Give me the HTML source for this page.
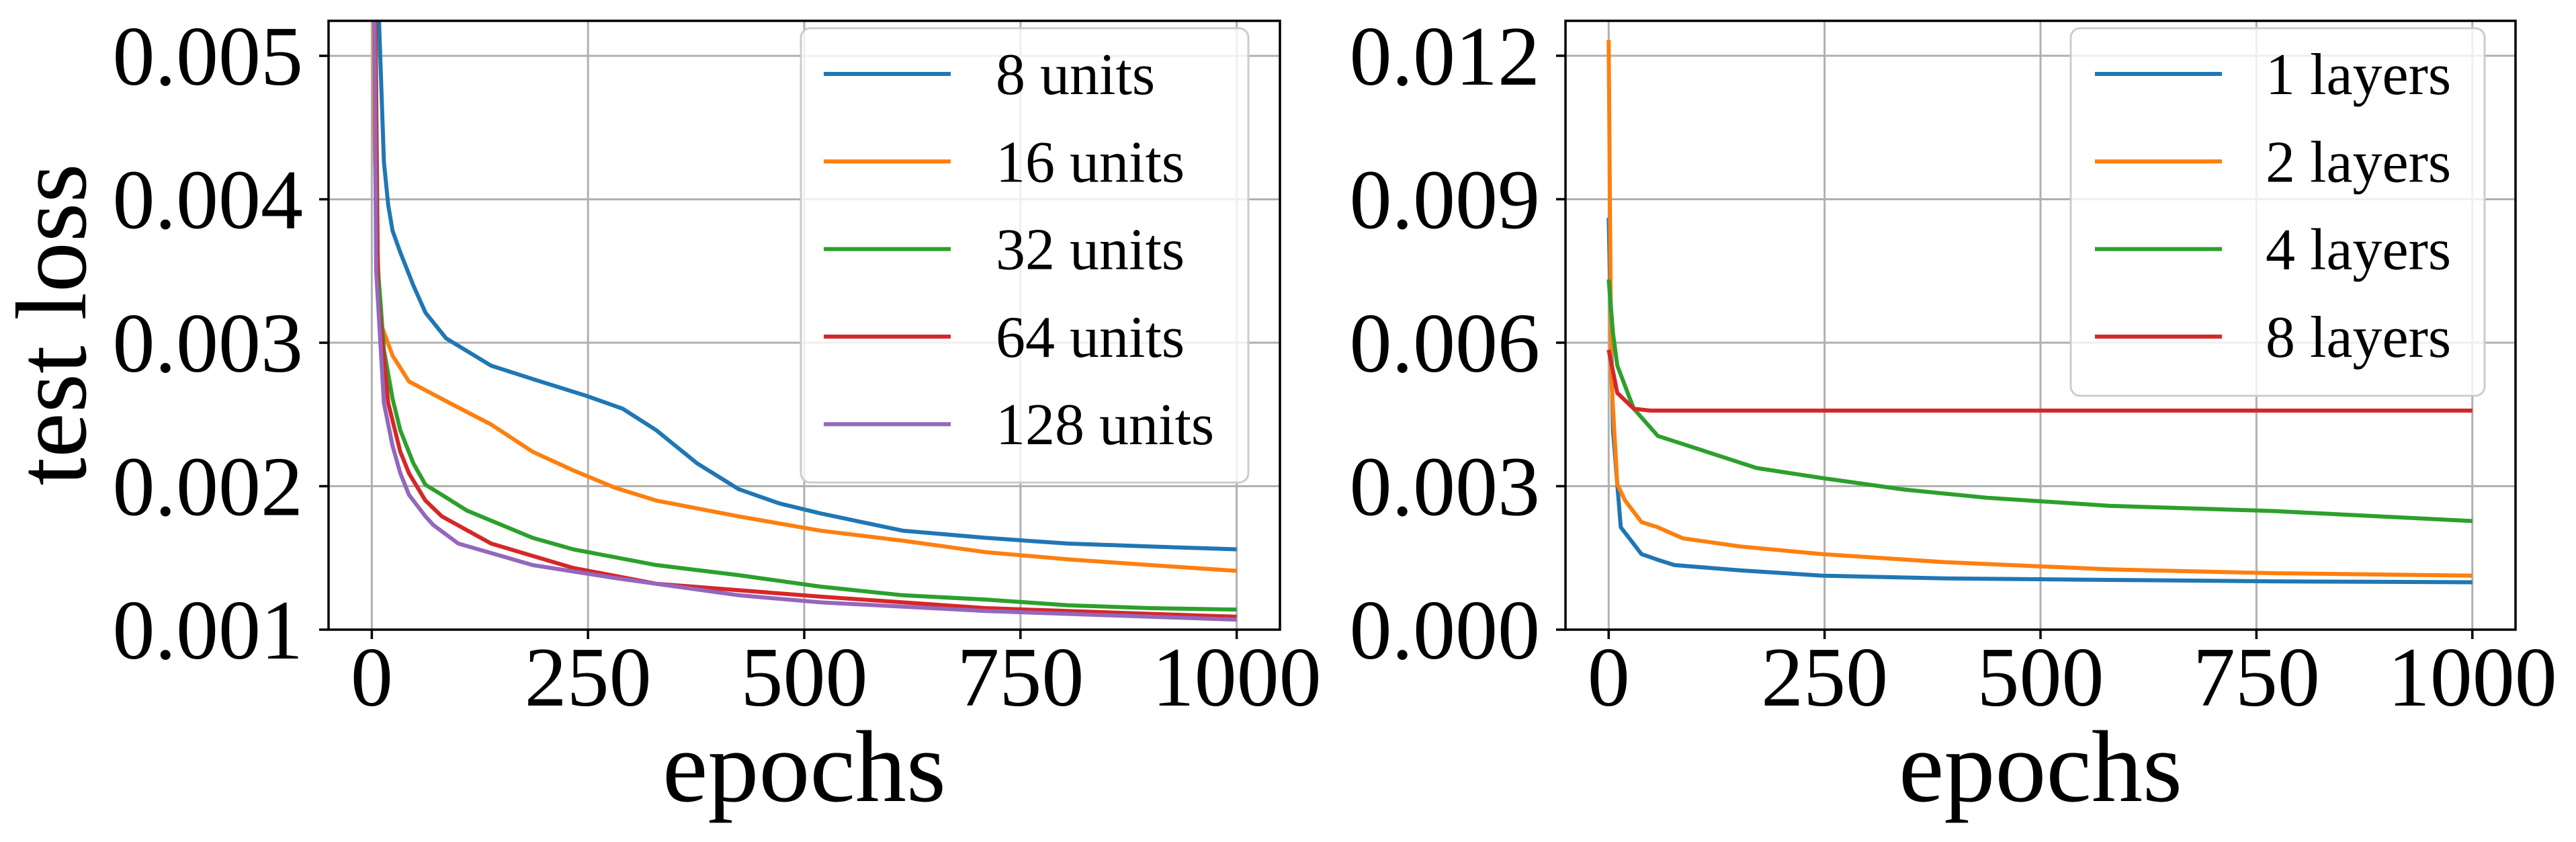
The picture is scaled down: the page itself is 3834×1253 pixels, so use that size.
<!DOCTYPE html>
<html><head><meta charset="utf-8"><style>
html,body{margin:0;padding:0;background:#fff;}
svg{display:block;font-family:"Liberation Serif",serif;}
</style></head><body>
<svg id="fig" width="3834" height="1253" viewBox="0 0 3834 1253" xmlns="http://www.w3.org/2000/svg">
<g id="p1"></g>
<g id="p2"></g>
<text x="0" y="0" transform="translate(127,483) rotate(-90)" text-anchor="middle" font-size="150">test loss</text>
<text x="1197" y="1192" text-anchor="middle" font-size="152">epochs</text>
<text x="3037" y="1192" text-anchor="middle" font-size="152">epochs</text>
</svg>
<script>
const xTicks=[0,250,500,750,1000];
const yTicksLeft=[0.001,0.002,0.003,0.004,0.005];
const yTicksRight=[0,0.003,0.006,0.009,0.012];
const yTickLabelsLeft=["0.001","0.002","0.003","0.004","0.005"];
const yTickLabelsRight=["0.000","0.003","0.006","0.009","0.012"];
const unitsLabels=["8 units","16 units","32 units","64 units","128 units"];
const layersLabels=["1 layers","2 layers","4 layers","8 layers"];
const colors=["#1f77b4","#ff7f0e","#2ca02c","#d62728","#9467bd"];
const u8x=[0,8,14,19,24,33,48,62,86,138,195,248,290,329,376,424,471,519,614,710,805,900,1000];
const u8y=[0.008,0.0053,0.00426,0.00396,0.00378,0.00363,0.0034,0.00321,0.00303,0.00284,0.00273,0.00263,0.00254,0.00239,0.00216,0.00198,0.00188,0.00181,0.00169,0.00164,0.0016,0.00158,0.00156];
const u16x=[0,3,5,10,24,43,90,138,186,233,281,329,424,519,614,710,805,900,1000];
const u16y=[0.008,0.0045,0.00389,0.00314,0.00291,0.00273,0.00258,0.00243,0.00224,0.00211,0.00199,0.0019,0.00179,0.00169,0.00162,0.00154,0.00149,0.00145,0.00141];
const u32x=[0,7,10,14,24,33,48,62,81,110,186,233,329,424,519,614,710,805,900,1000];
const u32y=[0.008,0.00351,0.00329,0.00295,0.00261,0.00239,0.00216,0.00201,0.00194,0.00183,0.00164,0.00156,0.00145,0.00138,0.0013,0.00124,0.00121,0.00117,0.00115,0.00114];
const u64x=[0,7,19,33,43,62,81,138,233,329,519,710,900,1000];
const u64y=[0.008,0.00333,0.00258,0.00224,0.00209,0.0019,0.00179,0.0016,0.00143,0.00132,0.00123,0.00115,0.00111,0.00109];
const u128x=[0,5,14,24,33,43,62,71,100,186,281,424,519,710,900,1000];
const u128y=[0.008,0.00351,0.00258,0.00228,0.00209,0.00194,0.00179,0.00173,0.0016,0.00145,0.00136,0.00124,0.00119,0.00113,0.00109,0.00107];
const l1x=[0,5,10,14,24,38,57,76,152,247,390,580,770,1000];
const l1y=[0.00861,0.00417,0.00304,0.00214,0.00191,0.00158,0.00146,0.00135,0.00124,0.00113,0.00107,0.00104,0.00101,0.00099];
const l2x=[0,3,10,19,38,57,86,152,247,390,580,770,1000];
const l2y=[0.01233,0.00529,0.00304,0.0027,0.00225,0.00214,0.00191,0.00174,0.00158,0.00141,0.00126,0.00118,0.00113];
const l4x=[0,5,10,29,57,105,171,247,342,437,580,770,1000];
const l4y=[0.00732,0.0062,0.00552,0.00462,0.00405,0.00377,0.00338,0.00317,0.00293,0.00276,0.00259,0.00248,0.00227];
const l8x=[0,10,29,48,250,500,750,1000];
const l8y=[0.00585,0.00495,0.00462,0.00458,0.00458,0.00458,0.00458,0.00458];

const NS="http://www.w3.org/2000/svg";
function mk(parent,tag,attrs){const e=document.createElementNS(NS,tag);for(const k in attrs)e.setAttribute(k,attrs[k]);parent.appendChild(e);return e;}

function panel(g,L,R,T,B,ymin,ymax,yt,ytl,series,labels,leg){
  const xs=v=>L+(v+50)/1100*(R-L);
  const ys=v=>B-(v-ymin)/(ymax-ymin)*(B-T);
  const clip='c'+L;
  const cp=mk(g,'clipPath',{id:clip});mk(cp,'rect',{x:L,y:T,width:R-L,height:B-T});
  xTicks.forEach(t=>{
    const l=mk(g,'line',{x1:xs(t),x2:xs(t),y1:T,y2:B,stroke:'#b0b0b0','stroke-width':3});
    
    
    const tk=mk(g,'line',{x1:xs(t),x2:xs(t),y1:B,y2:B+14,stroke:'#000','stroke-width':3.5});
    
    
    const tx=mk(g,'text',{x:xs(t),y:1050,'text-anchor':'middle','font-size':126});tx.textContent=t;
    
    
  });
  yt.forEach((t,i)=>{
    const l=mk(g,'line',{x1:L,x2:R,y1:ys(t),y2:ys(t),stroke:'#b0b0b0','stroke-width':3});
    
    
    const tk=mk(g,'line',{x1:L-14,x2:L,y1:ys(t),y2:ys(t),stroke:'#000','stroke-width':3.5});
    
    
    const tx=mk(g,'text',{x:L-38,y:ys(t)+43,'text-anchor':'end','font-size':126});tx.textContent=ytl[i];
    
    
  });
  series.forEach((s,i)=>{
    const pts=s[0].map((x,j)=>xs(x).toFixed(1)+','+ys(s[1][j]).toFixed(1)).join(' ');
    const p=mk(g,'polyline',{points:pts,fill:'none',stroke:colors[i],'stroke-width':6,'stroke-linejoin':'round','clip-path':'url(#'+clip+')'});
    
    
  });
  const fr=mk(g,'rect',{x:L,y:T,width:R-L,height:B-T,fill:'none',stroke:'#000','stroke-width':3.5});
  
  
  const lg=mk(g,'g',{});
  
  
  mk(lg,'rect',{x:leg.x,y:42,width:leg.w,height:leg.h,rx:14,fill:'#fff','fill-opacity':0.8,stroke:'#cccccc','stroke-width':3});
  labels.forEach((lb,i)=>{
    const y=110+i*130.3;
    const e=mk(lg,'g',{});
    
    
    mk(e,'line',{x1:leg.lx,x2:leg.lx+189,y1:y,y2:y,stroke:colors[i],'stroke-width':6});
    const t=mk(e,'text',{x:leg.tx,y:y+30,'font-size':88});t.textContent=lb;
  });
}
panel(document.getElementById('p1'),489,1905,31,937,0.001,0.005244,yTicksLeft,yTickLabelsLeft,
  [[u8x,u8y],[u16x,u16y],[u32x,u32y],[u64x,u64y],[u128x,u128y]],unitsLabels,{x:1192,w:666,h:676,lx:1226,tx:1482});
panel(document.getElementById('p2'),2330,3744,31,937,0,0.01273,yTicksRight,yTickLabelsRight,
  [[l1x,l1y],[l2x,l2y],[l4x,l4y],[l8x,l8y]],layersLabels,{x:3082,w:616,h:547,lx:3118,tx:3372});
</script>
</body></html>
